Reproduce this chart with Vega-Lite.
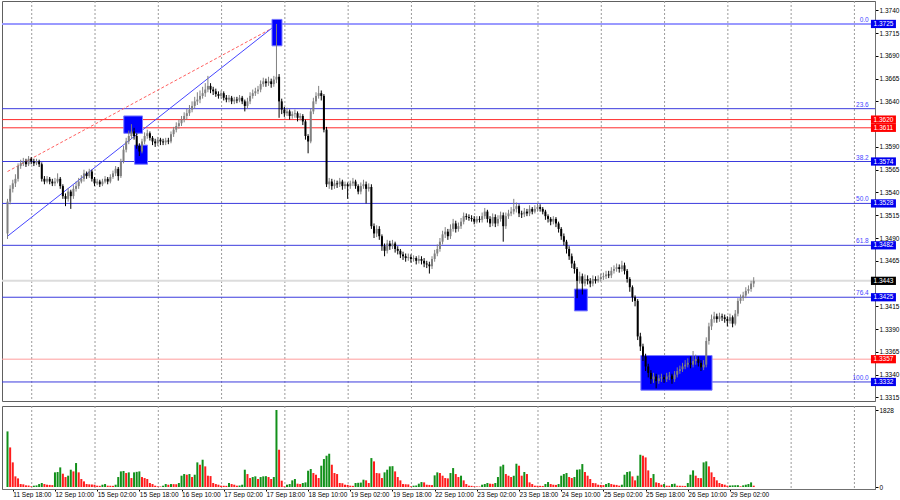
{
"$schema": "https://vega.github.io/schema/vega-lite/v6.json",
"padding": 0,
"background": "white",
"spacing": 3,
"config": {"view": {"stroke": "#606060", "strokeWidth": 1}, "font": "Liberation Sans",
 "axis": {"labelFontSize": 6.5, "labelColor": "#000000", "tickSize": 3, "tickColor": "#000000", "domainColor": "#707070", "labelFont": "Liberation Sans", "grid": false}},
"datasets": {
"bars": [
{"i":0,"o":1.3495,"h":1.3533,"l":1.3489,"c":1.3530,"v":1320},
{"i":1,"o":1.3530,"h":1.3548,"l":1.3527,"c":1.3544,"v":940},
{"i":2,"o":1.3544,"h":1.3554,"l":1.3540,"c":1.3550,"v":585},
{"i":3,"o":1.3550,"h":1.3560,"l":1.3546,"c":1.3555,"v":253},
{"i":4,"o":1.3555,"h":1.3572,"l":1.3552,"c":1.3569,"v":205},
{"i":5,"o":1.3569,"h":1.3576,"l":1.3566,"c":1.3572,"v":71},
{"i":6,"o":1.3572,"h":1.3578,"l":1.3569,"c":1.3574,"v":64},
{"i":7,"o":1.3574,"h":1.3577,"l":1.3568,"c":1.3571,"v":40},
{"i":8,"o":1.3571,"h":1.3580,"l":1.3569,"c":1.3577,"v":36},
{"i":9,"o":1.3577,"h":1.3579,"l":1.3571,"c":1.3574,"v":16},
{"i":10,"o":1.3574,"h":1.3577,"l":1.3569,"c":1.3572,"v":32},
{"i":11,"o":1.3572,"h":1.3577,"l":1.3570,"c":1.3574,"v":38},
{"i":12,"o":1.3574,"h":1.3576,"l":1.3568,"c":1.3571,"v":71},
{"i":13,"o":1.3571,"h":1.3573,"l":1.3552,"c":1.3555,"v":95},
{"i":14,"o":1.3555,"h":1.3558,"l":1.3549,"c":1.3552,"v":71},
{"i":15,"o":1.3552,"h":1.3558,"l":1.3550,"c":1.3555,"v":55},
{"i":16,"o":1.3555,"h":1.3557,"l":1.3549,"c":1.3552,"v":50},
{"i":17,"o":1.3552,"h":1.3555,"l":1.3547,"c":1.3550,"v":45},
{"i":18,"o":1.3550,"h":1.3556,"l":1.3547,"c":1.3552,"v":348},
{"i":19,"o":1.3552,"h":1.3561,"l":1.3550,"c":1.3555,"v":356},
{"i":20,"o":1.3555,"h":1.3557,"l":1.3544,"c":1.3547,"v":466},
{"i":21,"o":1.3547,"h":1.3549,"l":1.3533,"c":1.3536,"v":316},
{"i":22,"o":1.3536,"h":1.3539,"l":1.3525,"c":1.3533,"v":237},
{"i":23,"o":1.3533,"h":1.3545,"l":1.3530,"c":1.3541,"v":269},
{"i":24,"o":1.3541,"h":1.3543,"l":1.3522,"c":1.3536,"v":411},
{"i":25,"o":1.3536,"h":1.3548,"l":1.3533,"c":1.3544,"v":371},
{"i":26,"o":1.3544,"h":1.3552,"l":1.3541,"c":1.3547,"v":569},
{"i":27,"o":1.3547,"h":1.3556,"l":1.3544,"c":1.3552,"v":348},
{"i":28,"o":1.3552,"h":1.3559,"l":1.3550,"c":1.3555,"v":190},
{"i":29,"o":1.3555,"h":1.3565,"l":1.3552,"c":1.3561,"v":134},
{"i":30,"o":1.3561,"h":1.3563,"l":1.3555,"c":1.3558,"v":71},
{"i":31,"o":1.3558,"h":1.3566,"l":1.3556,"c":1.3563,"v":64},
{"i":32,"o":1.3563,"h":1.3565,"l":1.3552,"c":1.3555,"v":60},
{"i":33,"o":1.3555,"h":1.3557,"l":1.3547,"c":1.3550,"v":55},
{"i":34,"o":1.3550,"h":1.3555,"l":1.3548,"c":1.3552,"v":32},
{"i":35,"o":1.3552,"h":1.3554,"l":1.3546,"c":1.3549,"v":28},
{"i":36,"o":1.3549,"h":1.3555,"l":1.3547,"c":1.3552,"v":55},
{"i":37,"o":1.3552,"h":1.3558,"l":1.3550,"c":1.3555,"v":71},
{"i":38,"o":1.3555,"h":1.3557,"l":1.3549,"c":1.3552,"v":32},
{"i":39,"o":1.3552,"h":1.3560,"l":1.3550,"c":1.3557,"v":30},
{"i":40,"o":1.3557,"h":1.3564,"l":1.3555,"c":1.3561,"v":28},
{"i":41,"o":1.3561,"h":1.3569,"l":1.3558,"c":1.3566,"v":55},
{"i":42,"o":1.3566,"h":1.3568,"l":1.3553,"c":1.3558,"v":237},
{"i":43,"o":1.3558,"h":1.3577,"l":1.3556,"c":1.3574,"v":371},
{"i":44,"o":1.3574,"h":1.3591,"l":1.3572,"c":1.3587,"v":380},
{"i":45,"o":1.3587,"h":1.3600,"l":1.3584,"c":1.3596,"v":332},
{"i":46,"o":1.3596,"h":1.3608,"l":1.3593,"c":1.3602,"v":348},
{"i":47,"o":1.3602,"h":1.3615,"l":1.3599,"c":1.3607,"v":213},
{"i":48,"o":1.3607,"h":1.3611,"l":1.3598,"c":1.3602,"v":348},
{"i":49,"o":1.3602,"h":1.3605,"l":1.3588,"c":1.3591,"v":360},
{"i":50,"o":1.3591,"h":1.3594,"l":1.3580,"c":1.3585,"v":371},
{"i":51,"o":1.3585,"h":1.3599,"l":1.3583,"c":1.3596,"v":237},
{"i":52,"o":1.3596,"h":1.3606,"l":1.3593,"c":1.3602,"v":213},
{"i":53,"o":1.3602,"h":1.3609,"l":1.3599,"c":1.3605,"v":190},
{"i":54,"o":1.3605,"h":1.3607,"l":1.3597,"c":1.3600,"v":95},
{"i":55,"o":1.3600,"h":1.3602,"l":1.3592,"c":1.3596,"v":71},
{"i":56,"o":1.3596,"h":1.3599,"l":1.3590,"c":1.3594,"v":32},
{"i":57,"o":1.3594,"h":1.3601,"l":1.3591,"c":1.3598,"v":16},
{"i":58,"o":1.3598,"h":1.3600,"l":1.3592,"c":1.3596,"v":12},
{"i":59,"o":1.3596,"h":1.3599,"l":1.3592,"c":1.3595,"v":32},
{"i":60,"o":1.3595,"h":1.3600,"l":1.3592,"c":1.3597,"v":71},
{"i":61,"o":1.3597,"h":1.3600,"l":1.3593,"c":1.3596,"v":55},
{"i":62,"o":1.3596,"h":1.3607,"l":1.3594,"c":1.3604,"v":71},
{"i":63,"o":1.3604,"h":1.3612,"l":1.3601,"c":1.3609,"v":68},
{"i":64,"o":1.3609,"h":1.3617,"l":1.3606,"c":1.3613,"v":66},
{"i":65,"o":1.3613,"h":1.3620,"l":1.3610,"c":1.3616,"v":95},
{"i":66,"o":1.3616,"h":1.3624,"l":1.3613,"c":1.3620,"v":269},
{"i":67,"o":1.3620,"h":1.3628,"l":1.3617,"c":1.3624,"v":308},
{"i":68,"o":1.3624,"h":1.3632,"l":1.3620,"c":1.3627,"v":292},
{"i":69,"o":1.3627,"h":1.3636,"l":1.3624,"c":1.3631,"v":308},
{"i":70,"o":1.3631,"h":1.3640,"l":1.3628,"c":1.3635,"v":237},
{"i":71,"o":1.3635,"h":1.3645,"l":1.3632,"c":1.3640,"v":292},
{"i":72,"o":1.3640,"h":1.3650,"l":1.3636,"c":1.3642,"v":585},
{"i":73,"o":1.3642,"h":1.3652,"l":1.3638,"c":1.3646,"v":529},
{"i":74,"o":1.3646,"h":1.3656,"l":1.3643,"c":1.3649,"v":648},
{"i":75,"o":1.3649,"h":1.3660,"l":1.3645,"c":1.3653,"v":490},
{"i":76,"o":1.3653,"h":1.3668,"l":1.3650,"c":1.3657,"v":269},
{"i":77,"o":1.3657,"h":1.3660,"l":1.3649,"c":1.3653,"v":260},
{"i":78,"o":1.3653,"h":1.3656,"l":1.3647,"c":1.3651,"v":95},
{"i":79,"o":1.3651,"h":1.3654,"l":1.3645,"c":1.3648,"v":71},
{"i":80,"o":1.3648,"h":1.3651,"l":1.3643,"c":1.3646,"v":55},
{"i":81,"o":1.3646,"h":1.3652,"l":1.3643,"c":1.3649,"v":32},
{"i":82,"o":1.3649,"h":1.3651,"l":1.3641,"c":1.3644,"v":30},
{"i":83,"o":1.3644,"h":1.3647,"l":1.3639,"c":1.3642,"v":28},
{"i":84,"o":1.3642,"h":1.3647,"l":1.3639,"c":1.3644,"v":95},
{"i":85,"o":1.3644,"h":1.3646,"l":1.3637,"c":1.3640,"v":71},
{"i":86,"o":1.3640,"h":1.3645,"l":1.3637,"c":1.3642,"v":55},
{"i":87,"o":1.3642,"h":1.3645,"l":1.3638,"c":1.3641,"v":32},
{"i":88,"o":1.3641,"h":1.3647,"l":1.3639,"c":1.3644,"v":36},
{"i":89,"o":1.3644,"h":1.3646,"l":1.3637,"c":1.3640,"v":55},
{"i":90,"o":1.3640,"h":1.3642,"l":1.3629,"c":1.3635,"v":411},
{"i":91,"o":1.3635,"h":1.3644,"l":1.3632,"c":1.3640,"v":308},
{"i":92,"o":1.3640,"h":1.3650,"l":1.3637,"c":1.3646,"v":213},
{"i":93,"o":1.3646,"h":1.3653,"l":1.3643,"c":1.3649,"v":237},
{"i":94,"o":1.3649,"h":1.3655,"l":1.3646,"c":1.3651,"v":253},
{"i":95,"o":1.3651,"h":1.3657,"l":1.3648,"c":1.3653,"v":190},
{"i":96,"o":1.3653,"h":1.3663,"l":1.3650,"c":1.3659,"v":237},
{"i":97,"o":1.3659,"h":1.3666,"l":1.3656,"c":1.3662,"v":253},
{"i":98,"o":1.3662,"h":1.3665,"l":1.3656,"c":1.3660,"v":258},
{"i":99,"o":1.3660,"h":1.3667,"l":1.3657,"c":1.3662,"v":237},
{"i":100,"o":1.3662,"h":1.3665,"l":1.3655,"c":1.3659,"v":190},
{"i":101,"o":1.3659,"h":1.3668,"l":1.3656,"c":1.3664,"v":237},
{"i":102,"o":1.3664,"h":1.3725,"l":1.3660,"c":1.3667,"v":1828},
{"i":103,"o":1.3667,"h":1.3670,"l":1.3622,"c":1.3640,"v":885},
{"i":104,"o":1.3640,"h":1.3643,"l":1.3626,"c":1.3631,"v":150},
{"i":105,"o":1.3631,"h":1.3634,"l":1.3623,"c":1.3627,"v":16},
{"i":106,"o":1.3627,"h":1.3633,"l":1.3624,"c":1.3629,"v":55},
{"i":107,"o":1.3629,"h":1.3631,"l":1.3620,"c":1.3624,"v":71},
{"i":108,"o":1.3624,"h":1.3629,"l":1.3621,"c":1.3626,"v":158},
{"i":109,"o":1.3626,"h":1.3631,"l":1.3622,"c":1.3627,"v":190},
{"i":110,"o":1.3627,"h":1.3629,"l":1.3618,"c":1.3622,"v":79},
{"i":111,"o":1.3622,"h":1.3627,"l":1.3619,"c":1.3624,"v":71},
{"i":112,"o":1.3624,"h":1.3626,"l":1.3614,"c":1.3618,"v":95},
{"i":113,"o":1.3618,"h":1.3620,"l":1.3598,"c":1.3602,"v":110},
{"i":114,"o":1.3602,"h":1.3604,"l":1.3583,"c":1.3596,"v":387},
{"i":115,"o":1.3596,"h":1.3632,"l":1.3594,"c":1.3629,"v":427},
{"i":116,"o":1.3629,"h":1.3644,"l":1.3626,"c":1.3640,"v":332},
{"i":117,"o":1.3640,"h":1.3650,"l":1.3637,"c":1.3646,"v":292},
{"i":118,"o":1.3646,"h":1.3657,"l":1.3643,"c":1.3649,"v":213},
{"i":119,"o":1.3649,"h":1.3652,"l":1.3641,"c":1.3646,"v":506},
{"i":120,"o":1.3646,"h":1.3648,"l":1.3606,"c":1.3609,"v":664},
{"i":121,"o":1.3609,"h":1.3612,"l":1.3546,"c":1.3549,"v":743},
{"i":122,"o":1.3549,"h":1.3556,"l":1.3544,"c":1.3552,"v":790},
{"i":123,"o":1.3552,"h":1.3555,"l":1.3543,"c":1.3547,"v":529},
{"i":124,"o":1.3547,"h":1.3554,"l":1.3544,"c":1.3550,"v":332},
{"i":125,"o":1.3550,"h":1.3553,"l":1.3545,"c":1.3549,"v":308},
{"i":126,"o":1.3549,"h":1.3556,"l":1.3546,"c":1.3552,"v":95},
{"i":127,"o":1.3552,"h":1.3554,"l":1.3543,"c":1.3547,"v":90},
{"i":128,"o":1.3547,"h":1.3552,"l":1.3544,"c":1.3549,"v":55},
{"i":129,"o":1.3549,"h":1.3551,"l":1.3533,"c":1.3547,"v":50},
{"i":130,"o":1.3547,"h":1.3553,"l":1.3544,"c":1.3550,"v":32},
{"i":131,"o":1.3550,"h":1.3556,"l":1.3547,"c":1.3552,"v":28},
{"i":132,"o":1.3552,"h":1.3554,"l":1.3544,"c":1.3547,"v":95},
{"i":133,"o":1.3547,"h":1.3549,"l":1.3538,"c":1.3541,"v":100},
{"i":134,"o":1.3541,"h":1.3551,"l":1.3538,"c":1.3547,"v":105},
{"i":135,"o":1.3547,"h":1.3554,"l":1.3544,"c":1.3549,"v":174},
{"i":136,"o":1.3549,"h":1.3552,"l":1.3528,"c":1.3544,"v":158},
{"i":137,"o":1.3544,"h":1.3550,"l":1.3541,"c":1.3546,"v":95},
{"i":138,"o":1.3546,"h":1.3549,"l":1.3500,"c":1.3503,"v":687},
{"i":139,"o":1.3503,"h":1.3506,"l":1.3490,"c":1.3495,"v":608},
{"i":140,"o":1.3495,"h":1.3504,"l":1.3491,"c":1.3500,"v":332},
{"i":141,"o":1.3500,"h":1.3503,"l":1.3488,"c":1.3492,"v":325},
{"i":142,"o":1.3492,"h":1.3494,"l":1.3476,"c":1.3481,"v":213},
{"i":143,"o":1.3481,"h":1.3484,"l":1.3470,"c":1.3476,"v":348},
{"i":144,"o":1.3476,"h":1.3488,"l":1.3473,"c":1.3484,"v":411},
{"i":145,"o":1.3484,"h":1.3487,"l":1.3477,"c":1.3481,"v":490},
{"i":146,"o":1.3481,"h":1.3488,"l":1.3478,"c":1.3484,"v":495},
{"i":147,"o":1.3484,"h":1.3486,"l":1.3474,"c":1.3478,"v":371},
{"i":148,"o":1.3478,"h":1.3481,"l":1.3472,"c":1.3476,"v":237},
{"i":149,"o":1.3476,"h":1.3478,"l":1.3468,"c":1.3472,"v":158},
{"i":150,"o":1.3472,"h":1.3475,"l":1.3466,"c":1.3470,"v":71},
{"i":151,"o":1.3470,"h":1.3473,"l":1.3464,"c":1.3468,"v":66},
{"i":152,"o":1.3468,"h":1.3473,"l":1.3465,"c":1.3469,"v":62},
{"i":153,"o":1.3469,"h":1.3472,"l":1.3463,"c":1.3467,"v":16},
{"i":154,"o":1.3467,"h":1.3471,"l":1.3464,"c":1.3468,"v":32},
{"i":155,"o":1.3468,"h":1.3470,"l":1.3461,"c":1.3465,"v":36},
{"i":156,"o":1.3465,"h":1.3471,"l":1.3462,"c":1.3467,"v":79},
{"i":157,"o":1.3467,"h":1.3470,"l":1.3461,"c":1.3465,"v":118},
{"i":158,"o":1.3465,"h":1.3468,"l":1.3458,"c":1.3462,"v":110},
{"i":159,"o":1.3462,"h":1.3465,"l":1.3457,"c":1.3461,"v":55},
{"i":160,"o":1.3461,"h":1.3464,"l":1.3451,"c":1.3459,"v":50},
{"i":161,"o":1.3459,"h":1.3470,"l":1.3456,"c":1.3467,"v":45},
{"i":162,"o":1.3467,"h":1.3477,"l":1.3464,"c":1.3473,"v":277},
{"i":163,"o":1.3473,"h":1.3483,"l":1.3470,"c":1.3478,"v":348},
{"i":164,"o":1.3478,"h":1.3490,"l":1.3475,"c":1.3486,"v":332},
{"i":165,"o":1.3486,"h":1.3498,"l":1.3483,"c":1.3494,"v":269},
{"i":166,"o":1.3494,"h":1.3502,"l":1.3490,"c":1.3497,"v":213},
{"i":167,"o":1.3497,"h":1.3500,"l":1.3488,"c":1.3492,"v":205},
{"i":168,"o":1.3492,"h":1.3505,"l":1.3489,"c":1.3500,"v":332},
{"i":169,"o":1.3500,"h":1.3511,"l":1.3497,"c":1.3506,"v":450},
{"i":170,"o":1.3506,"h":1.3509,"l":1.3496,"c":1.3500,"v":308},
{"i":171,"o":1.3500,"h":1.3507,"l":1.3497,"c":1.3503,"v":237},
{"i":172,"o":1.3503,"h":1.3512,"l":1.3500,"c":1.3508,"v":269},
{"i":173,"o":1.3508,"h":1.3518,"l":1.3505,"c":1.3514,"v":158},
{"i":174,"o":1.3514,"h":1.3517,"l":1.3510,"c":1.3513,"v":71},
{"i":175,"o":1.3513,"h":1.3516,"l":1.3509,"c":1.3512,"v":32},
{"i":176,"o":1.3512,"h":1.3515,"l":1.3508,"c":1.3511,"v":28},
{"i":177,"o":1.3511,"h":1.3514,"l":1.3505,"c":1.3508,"v":16},
{"i":178,"o":1.3508,"h":1.3514,"l":1.3506,"c":1.3511,"v":14},
{"i":179,"o":1.3511,"h":1.3514,"l":1.3507,"c":1.3510,"v":12},
{"i":180,"o":1.3510,"h":1.3518,"l":1.3507,"c":1.3514,"v":55},
{"i":181,"o":1.3514,"h":1.3523,"l":1.3511,"c":1.3519,"v":71},
{"i":182,"o":1.3519,"h":1.3521,"l":1.3507,"c":1.3511,"v":95},
{"i":183,"o":1.3511,"h":1.3514,"l":1.3502,"c":1.3506,"v":79},
{"i":184,"o":1.3506,"h":1.3517,"l":1.3503,"c":1.3513,"v":75},
{"i":185,"o":1.3513,"h":1.3516,"l":1.3502,"c":1.3506,"v":95},
{"i":186,"o":1.3506,"h":1.3515,"l":1.3503,"c":1.3511,"v":237},
{"i":187,"o":1.3511,"h":1.3519,"l":1.3508,"c":1.3515,"v":490},
{"i":188,"o":1.3515,"h":1.3518,"l":1.3486,"c":1.3503,"v":529},
{"i":189,"o":1.3503,"h":1.3518,"l":1.3500,"c":1.3514,"v":308},
{"i":190,"o":1.3514,"h":1.3521,"l":1.3511,"c":1.3517,"v":269},
{"i":191,"o":1.3517,"h":1.3524,"l":1.3514,"c":1.3519,"v":237},
{"i":192,"o":1.3519,"h":1.3533,"l":1.3516,"c":1.3522,"v":269},
{"i":193,"o":1.3522,"h":1.3529,"l":1.3518,"c":1.3525,"v":553},
{"i":194,"o":1.3525,"h":1.3527,"l":1.3513,"c":1.3517,"v":506},
{"i":195,"o":1.3517,"h":1.3520,"l":1.3512,"c":1.3516,"v":269},
{"i":196,"o":1.3516,"h":1.3523,"l":1.3513,"c":1.3519,"v":356},
{"i":197,"o":1.3519,"h":1.3522,"l":1.3514,"c":1.3517,"v":308},
{"i":198,"o":1.3517,"h":1.3526,"l":1.3514,"c":1.3522,"v":110},
{"i":199,"o":1.3522,"h":1.3524,"l":1.3516,"c":1.3519,"v":71},
{"i":200,"o":1.3519,"h":1.3526,"l":1.3517,"c":1.3522,"v":32},
{"i":201,"o":1.3522,"h":1.3528,"l":1.3519,"c":1.3524,"v":30},
{"i":202,"o":1.3524,"h":1.3527,"l":1.3519,"c":1.3522,"v":28},
{"i":203,"o":1.3522,"h":1.3524,"l":1.3516,"c":1.3519,"v":26},
{"i":204,"o":1.3519,"h":1.3521,"l":1.3510,"c":1.3514,"v":71},
{"i":205,"o":1.3514,"h":1.3516,"l":1.3507,"c":1.3511,"v":118},
{"i":206,"o":1.3511,"h":1.3513,"l":1.3504,"c":1.3508,"v":71},
{"i":207,"o":1.3508,"h":1.3514,"l":1.3505,"c":1.3511,"v":55},
{"i":208,"o":1.3511,"h":1.3513,"l":1.3502,"c":1.3506,"v":50},
{"i":209,"o":1.3506,"h":1.3508,"l":1.3496,"c":1.3500,"v":71},
{"i":210,"o":1.3500,"h":1.3502,"l":1.3488,"c":1.3492,"v":269},
{"i":211,"o":1.3492,"h":1.3495,"l":1.3482,"c":1.3486,"v":308},
{"i":212,"o":1.3486,"h":1.3488,"l":1.3473,"c":1.3478,"v":332},
{"i":213,"o":1.3478,"h":1.3481,"l":1.3466,"c":1.3470,"v":237},
{"i":214,"o":1.3470,"h":1.3473,"l":1.3457,"c":1.3462,"v":213},
{"i":215,"o":1.3462,"h":1.3465,"l":1.3451,"c":1.3456,"v":237},
{"i":216,"o":1.3456,"h":1.3458,"l":1.3424,"c":1.3443,"v":411},
{"i":217,"o":1.3443,"h":1.3453,"l":1.3440,"c":1.3448,"v":420},
{"i":218,"o":1.3448,"h":1.3451,"l":1.3428,"c":1.3440,"v":545},
{"i":219,"o":1.3440,"h":1.3450,"l":1.3437,"c":1.3445,"v":356},
{"i":220,"o":1.3445,"h":1.3449,"l":1.3439,"c":1.3443,"v":269},
{"i":221,"o":1.3443,"h":1.3446,"l":1.3436,"c":1.3440,"v":190},
{"i":222,"o":1.3440,"h":1.3449,"l":1.3437,"c":1.3445,"v":95},
{"i":223,"o":1.3445,"h":1.3448,"l":1.3440,"c":1.3443,"v":90},
{"i":224,"o":1.3443,"h":1.3449,"l":1.3441,"c":1.3445,"v":55},
{"i":225,"o":1.3445,"h":1.3451,"l":1.3442,"c":1.3447,"v":50},
{"i":226,"o":1.3447,"h":1.3452,"l":1.3444,"c":1.3448,"v":45},
{"i":227,"o":1.3448,"h":1.3454,"l":1.3445,"c":1.3450,"v":71},
{"i":228,"o":1.3450,"h":1.3454,"l":1.3446,"c":1.3449,"v":95},
{"i":229,"o":1.3449,"h":1.3458,"l":1.3446,"c":1.3454,"v":71},
{"i":230,"o":1.3454,"h":1.3460,"l":1.3451,"c":1.3456,"v":55},
{"i":231,"o":1.3456,"h":1.3462,"l":1.3453,"c":1.3458,"v":50},
{"i":232,"o":1.3458,"h":1.3461,"l":1.3452,"c":1.3456,"v":32},
{"i":233,"o":1.3456,"h":1.3465,"l":1.3453,"c":1.3460,"v":55},
{"i":234,"o":1.3460,"h":1.3463,"l":1.3450,"c":1.3454,"v":292},
{"i":235,"o":1.3454,"h":1.3456,"l":1.3441,"c":1.3445,"v":356},
{"i":236,"o":1.3445,"h":1.3447,"l":1.3431,"c":1.3436,"v":371},
{"i":237,"o":1.3436,"h":1.3438,"l":1.3420,"c":1.3425,"v":253},
{"i":238,"o":1.3425,"h":1.3427,"l":1.3415,"c":1.3421,"v":158},
{"i":239,"o":1.3421,"h":1.3423,"l":1.3378,"c":1.3382,"v":269},
{"i":240,"o":1.3382,"h":1.3386,"l":1.3366,"c":1.3371,"v":766},
{"i":241,"o":1.3371,"h":1.3374,"l":1.3355,"c":1.3360,"v":743},
{"i":242,"o":1.3360,"h":1.3363,"l":1.3344,"c":1.3349,"v":703},
{"i":243,"o":1.3349,"h":1.3352,"l":1.3337,"c":1.3342,"v":395},
{"i":244,"o":1.3342,"h":1.3345,"l":1.3330,"c":1.3335,"v":213},
{"i":245,"o":1.3335,"h":1.3342,"l":1.3331,"c":1.3338,"v":308},
{"i":246,"o":1.3338,"h":1.3341,"l":1.3325,"c":1.3333,"v":110},
{"i":247,"o":1.3333,"h":1.3340,"l":1.3330,"c":1.3336,"v":95},
{"i":248,"o":1.3336,"h":1.3341,"l":1.3332,"c":1.3337,"v":55},
{"i":249,"o":1.3337,"h":1.3340,"l":1.3331,"c":1.3335,"v":71},
{"i":250,"o":1.3335,"h":1.3342,"l":1.3332,"c":1.3338,"v":32},
{"i":251,"o":1.3338,"h":1.3343,"l":1.3334,"c":1.3339,"v":30},
{"i":252,"o":1.3339,"h":1.3341,"l":1.3330,"c":1.3335,"v":71},
{"i":253,"o":1.3335,"h":1.3344,"l":1.3332,"c":1.3340,"v":79},
{"i":254,"o":1.3340,"h":1.3348,"l":1.3337,"c":1.3344,"v":32},
{"i":255,"o":1.3344,"h":1.3350,"l":1.3341,"c":1.3346,"v":30},
{"i":256,"o":1.3346,"h":1.3353,"l":1.3343,"c":1.3349,"v":28},
{"i":257,"o":1.3349,"h":1.3356,"l":1.3346,"c":1.3351,"v":26},
{"i":258,"o":1.3351,"h":1.3358,"l":1.3348,"c":1.3353,"v":95},
{"i":259,"o":1.3353,"h":1.3360,"l":1.3347,"c":1.3351,"v":292},
{"i":260,"o":1.3351,"h":1.3366,"l":1.3348,"c":1.3355,"v":395},
{"i":261,"o":1.3355,"h":1.3362,"l":1.3351,"c":1.3357,"v":269},
{"i":262,"o":1.3357,"h":1.3360,"l":1.3349,"c":1.3353,"v":213},
{"i":263,"o":1.3353,"h":1.3356,"l":1.3344,"c":1.3348,"v":210},
{"i":264,"o":1.3348,"h":1.3356,"l":1.3345,"c":1.3351,"v":585},
{"i":265,"o":1.3351,"h":1.3381,"l":1.3348,"c":1.3377,"v":608},
{"i":266,"o":1.3377,"h":1.3397,"l":1.3373,"c":1.3393,"v":490},
{"i":267,"o":1.3393,"h":1.3406,"l":1.3389,"c":1.3401,"v":348},
{"i":268,"o":1.3401,"h":1.3409,"l":1.3397,"c":1.3404,"v":237},
{"i":269,"o":1.3404,"h":1.3407,"l":1.3397,"c":1.3401,"v":158},
{"i":270,"o":1.3401,"h":1.3408,"l":1.3398,"c":1.3404,"v":95},
{"i":271,"o":1.3404,"h":1.3407,"l":1.3399,"c":1.3403,"v":71},
{"i":272,"o":1.3403,"h":1.3406,"l":1.3397,"c":1.3401,"v":55},
{"i":273,"o":1.3401,"h":1.3404,"l":1.3393,"c":1.3399,"v":32},
{"i":274,"o":1.3399,"h":1.3407,"l":1.3396,"c":1.3403,"v":36},
{"i":275,"o":1.3403,"h":1.3405,"l":1.3392,"c":1.3396,"v":40},
{"i":276,"o":1.3396,"h":1.3411,"l":1.3394,"c":1.3407,"v":42},
{"i":277,"o":1.3407,"h":1.3424,"l":1.3404,"c":1.3421,"v":44},
{"i":278,"o":1.3421,"h":1.3428,"l":1.3418,"c":1.3424,"v":16},
{"i":279,"o":1.3424,"h":1.3431,"l":1.3421,"c":1.3427,"v":40},
{"i":280,"o":1.3427,"h":1.3436,"l":1.3424,"c":1.3432,"v":55},
{"i":281,"o":1.3432,"h":1.3438,"l":1.3429,"c":1.3434,"v":71},
{"i":282,"o":1.3434,"h":1.3443,"l":1.3431,"c":1.3440,"v":110},
{"i":283,"o":1.3440,"h":1.3447,"l":1.3436,"c":1.3443,"v":32}
],
"levels": [
{"p":1.3725,"k":"fib0","f":"0.0"},
{"p":1.3632,"k":"fib","f":"23.6"},
{"p":1.3574,"k":"fib","f":"38.2"},
{"p":1.3528,"k":"fib","f":"50.0"},
{"p":1.3482,"k":"fib","f":"61.8"},
{"p":1.3425,"k":"fib","f":"76.4"},
{"p":1.3332,"k":"fib","f":"100.0"},
{"p":1.3620,"k":"res","f":""},
{"p":1.3611,"k":"res","f":""},
{"p":1.3357,"k":"sup","f":""},
{"p":1.3443,"k":"bid","f":""}
],
"grid": [{"g":9.19},{"g":33.19},{"g":57.19},{"g":81.19},{"g":105.19},{"g":129.19},{"g":153.19},{"g":177.19},{"g":201.19},{"g":225.19},{"g":249.19},{"g":273.19},{"g":297.19},{"g":321.19}],
"trend": [
{"t":"a","i":0,"p":1.3492},{"t":"a","i":101.4,"p":1.3723},
{"t":"b","i":0,"p":1.3563},{"t":"b","i":101.4,"p":1.3722}
],
"boxes": [
{"i":44.1,"i2":51.2,"p":1.3624,"p2":1.3605},
{"i":48.2,"i2":53.1,"p":1.3592,"p2":1.3571},
{"i":100.3,"i2":104.1,"p":1.3730,"p2":1.3701},
{"i":215.0,"i2":219.9,"p":1.3434,"p2":1.3410},
{"i":240.2,"i2":267.2,"p":1.3361,"p2":1.3323}
]
},
"vconcat": [
{
"width": 873, "height": 400,
"layer": [
{"data": {"name": "grid"}, "mark": {"type": "rule", "color": "#9a9a9a", "strokeDash": [2, 2], "strokeWidth": 1},
 "encoding": {"x": {"field": "g", "type": "quantitative", "scale": {"domain": [-0.19, 327.1], "nice": false, "zero": false}, "axis": null}}},
{"data": {"name": "levels"}, "mark": {"type": "rule"},
 "encoding": {
  "y": {"field": "p", "type": "quantitative", "scale": {"domain": [1.33111, 1.37502], "nice": false, "zero": false},
   "axis": {"orient": "right", "title": null, "values": [1.3315,1.334,1.3365,1.339,1.3415,1.3465,1.349,1.3515,1.354,1.3565,1.359,1.364,1.3665,1.369,1.3715,1.374], "format": ".4f", "labelPadding": 1}},
  "color": {"condition": [{"test": "datum.k=='fib0'", "value": "#9a9aff"}, {"test": "datum.k=='fib'", "value": "#3b3bdd"}, {"test": "datum.k=='res'", "value": "#ff2a2a"}, {"test": "datum.k=='sup'", "value": "#ff9e9e"}], "value": "#dcdcdc"},
  "strokeWidth": {"condition": {"test": "datum.k=='fib0' || datum.k=='bid'", "value": 2}, "value": 1}
 }},
{"data": {"name": "trend"}, "transform": [{"filter": "datum.t=='b'"}], "mark": {"type": "line", "color": "#ff6060", "strokeDash": [3, 2], "strokeWidth": 1},
 "encoding": {"x": {"field": "i", "type": "quantitative", "scale": {"domain": [-0.19, 327.1], "nice": false, "zero": false}, "axis": null},
  "y": {"field": "p", "type": "quantitative", "scale": {"domain": [1.33111, 1.37502], "nice": false, "zero": false},
   "axis": {"orient": "right", "title": null, "values": [1.3315,1.334,1.3365,1.339,1.3415,1.3465,1.349,1.3515,1.354,1.3565,1.359,1.364,1.3665,1.369,1.3715,1.374], "format": ".4f", "labelPadding": 1}}}},
{"data": {"name": "trend"}, "transform": [{"filter": "datum.t=='a'"}], "mark": {"type": "line", "color": "#4646ff", "strokeWidth": 1},
 "encoding": {"x": {"field": "i", "type": "quantitative", "scale": {"domain": [-0.19, 327.1], "nice": false, "zero": false}, "axis": null},
  "y": {"field": "p", "type": "quantitative", "scale": {"domain": [1.33111, 1.37502], "nice": false, "zero": false},
   "axis": {"orient": "right", "title": null, "values": [1.3315,1.334,1.3365,1.339,1.3415,1.3465,1.349,1.3515,1.354,1.3565,1.359,1.364,1.3665,1.369,1.3715,1.374], "format": ".4f", "labelPadding": 1}}}},
{"data": {"name": "boxes"}, "mark": {"type": "rect", "fill": "#0000ff", "stroke": "#7a7aff", "strokeWidth": 1},
 "encoding": {"x": {"field": "i", "type": "quantitative", "scale": {"domain": [-0.19, 327.1], "nice": false, "zero": false}, "axis": null},
  "x2": {"field": "i2"},
  "y": {"field": "p", "type": "quantitative", "scale": {"domain": [1.33111, 1.37502], "nice": false, "zero": false},
   "axis": {"orient": "right", "title": null, "values": [1.3315,1.334,1.3365,1.339,1.3415,1.3465,1.349,1.3515,1.354,1.3565,1.359,1.364,1.3665,1.369,1.3715,1.374], "format": ".4f", "labelPadding": 1}},
  "y2": {"field": "p2"}}},
{"data": {"name": "bars"}, "mark": {"type": "rule", "strokeWidth": 1},
 "encoding": {"x": {"field": "i", "type": "quantitative", "scale": {"domain": [-0.19, 327.1], "nice": false, "zero": false}, "axis": null},
  "y": {"field": "l", "type": "quantitative", "scale": {"domain": [1.33111, 1.37502], "nice": false, "zero": false},
   "axis": {"orient": "right", "title": null, "values": [1.3315,1.334,1.3365,1.339,1.3415,1.3465,1.349,1.3515,1.354,1.3565,1.359,1.364,1.3665,1.369,1.3715,1.374], "format": ".4f", "labelPadding": 1}},
  "y2": {"field": "h"},
  "color": {"condition": {"test": "datum.c >= datum.o", "value": "#808080"}, "value": "#000000"}}},
{"data": {"name": "bars"}, "mark": {"type": "bar", "width": 2},
 "encoding": {"x": {"field": "i", "type": "quantitative", "scale": {"domain": [-0.19, 327.1], "nice": false, "zero": false}, "axis": null},
  "y": {"field": "o", "type": "quantitative", "scale": {"domain": [1.33111, 1.37502], "nice": false, "zero": false},
   "axis": {"orient": "right", "title": null, "values": [1.3315,1.334,1.3365,1.339,1.3415,1.3465,1.349,1.3515,1.354,1.3565,1.359,1.364,1.3665,1.369,1.3715,1.374], "format": ".4f", "labelPadding": 1}},
  "y2": {"field": "c"},
  "color": {"condition": {"test": "datum.c >= datum.o", "value": "#808080"}, "value": "#000000"}}},
{"data": {"name": "levels"}, "transform": [{"filter": "datum.f != ''"}], "mark": {"type": "text", "align": "right", "baseline": "bottom", "fontSize": 6.5, "color": "#4646ff", "dy": -1},
 "encoding": {"x": {"datum": 326.6, "type": "quantitative", "scale": {"domain": [-0.19, 327.1], "nice": false, "zero": false}, "axis": null},
  "y": {"field": "p", "type": "quantitative", "scale": {"domain": [1.33111, 1.37502], "nice": false, "zero": false},
   "axis": {"orient": "right", "title": null, "values": [1.3315,1.334,1.3365,1.339,1.3415,1.3465,1.349,1.3515,1.354,1.3565,1.359,1.364,1.3665,1.369,1.3715,1.374], "format": ".4f", "labelPadding": 1}},
  "text": {"field": "f"}}},
{"data": {"name": "levels"}, "transform": [{"filter": "datum.f != '23.6'"}], "mark": {"type": "point", "shape": "M-1,-0.33H1V0.33H-1Z", "size": 625, "filled": true, "opacity": 1, "strokeWidth": 0},
 "encoding": {"x": {"datum": 332.2, "type": "quantitative", "scale": {"domain": [-0.19, 327.1], "nice": false, "zero": false}, "axis": null},
  "y": {"field": "p", "type": "quantitative", "scale": {"domain": [1.33111, 1.37502], "nice": false, "zero": false},
   "axis": {"orient": "right", "title": null, "values": [1.3315,1.334,1.3365,1.339,1.3415,1.3465,1.349,1.3515,1.354,1.3565,1.359,1.364,1.3665,1.369,1.3715,1.374], "format": ".4f", "labelPadding": 1}},
  "color": {"condition": [{"test": "datum.k=='fib0' || datum.k=='fib'", "value": "#0000ee"}, {"test": "datum.k=='bid'", "value": "#000000"}], "value": "#ff0000"}}},
{"data": {"name": "levels"}, "transform": [{"filter": "datum.f != '23.6'"}], "mark": {"type": "text", "align": "center", "baseline": "middle", "fontSize": 6.5, "color": "#ffffff"},
 "encoding": {"x": {"datum": 332.2, "type": "quantitative", "scale": {"domain": [-0.19, 327.1], "nice": false, "zero": false}, "axis": null},
  "y": {"field": "p", "type": "quantitative", "scale": {"domain": [1.33111, 1.37502], "nice": false, "zero": false},
   "axis": {"orient": "right", "title": null, "values": [1.3315,1.334,1.3365,1.339,1.3415,1.3465,1.349,1.3515,1.354,1.3565,1.359,1.364,1.3665,1.369,1.3715,1.374], "format": ".4f", "labelPadding": 1}},
  "text": {"field": "p", "type": "quantitative", "format": ".4f"}}},
{"mark": {"type": "text", "align": "left", "baseline": "middle", "fontSize": 6.5, "color": "#000000", "text": "3447 1.3436 1.3443"},
 "encoding": {"x": {"datum": -0.19, "type": "quantitative", "scale": {"domain": [-0.19, 327.1], "nice": false, "zero": false}, "axis": null},
  "y": {"datum": 1.37425, "type": "quantitative", "scale": {"domain": [1.33111, 1.37502], "nice": false, "zero": false},
   "axis": {"orient": "right", "title": null, "values": [1.3315,1.334,1.3365,1.339,1.3415,1.3465,1.349,1.3515,1.354,1.3565,1.359,1.364,1.3665,1.369,1.3715,1.374], "format": ".4f", "labelPadding": 1}}}}
]
},
{
"width": 873, "height": 83,
"layer": [
{"data": {"name": "grid"}, "mark": {"type": "rule", "color": "#9a9a9a", "strokeDash": [2, 2], "strokeWidth": 1},
 "encoding": {"x": {"field": "g", "type": "quantitative", "scale": {"domain": [-0.19, 327.1], "nice": false, "zero": false},
   "axis": {"orient": "bottom", "title": null, "values": [2,18,34,50,66,82,98,114,130,146,162,178,194,210,226,242,258,274],
    "labelExpr": "['11 Sep 18:00','12 Sep 10:00','15 Sep 02:00','15 Sep 18:00','16 Sep 10:00','17 Sep 02:00','17 Sep 18:00','18 Sep 10:00','19 Sep 02:00','19 Sep 18:00','22 Sep 10:00','23 Sep 02:00','23 Sep 18:00','24 Sep 10:00','25 Sep 02:00','25 Sep 18:00','26 Sep 10:00','29 Sep 02:00'][round((datum.value-2)/16)]",
    "labelAlign": "left", "labelPadding": 0, "tickSize": 2, "labelOverlap": false, "labelBound": false}}}},
{"data": {"name": "bars"}, "transform": [{"window": [{"op": "lag", "field": "v", "as": "pv"}], "sort": [{"field": "i"}]}],
 "mark": {"type": "bar", "width": 2},
 "encoding": {
  "x": {"field": "i", "type": "quantitative", "scale": {"domain": [-0.19, 327.1], "nice": false, "zero": false},
   "axis": {"orient": "bottom", "title": null, "values": [2,18,34,50,66,82,98,114,130,146,162,178,194,210,226,242,258,274],
    "labelExpr": "['11 Sep 18:00','12 Sep 10:00','15 Sep 02:00','15 Sep 18:00','16 Sep 10:00','17 Sep 02:00','17 Sep 18:00','18 Sep 10:00','19 Sep 02:00','19 Sep 18:00','22 Sep 10:00','23 Sep 02:00','23 Sep 18:00','24 Sep 10:00','25 Sep 02:00','25 Sep 18:00','26 Sep 10:00','29 Sep 02:00'][round((datum.value-2)/16)]",
    "labelAlign": "left", "labelPadding": 0, "tickSize": 2, "labelOverlap": false, "labelBound": false}},
  "y": {"field": "v", "type": "quantitative", "scale": {"domain": [-47, 1923], "nice": false, "zero": false},
   "axis": {"orient": "right", "title": null, "values": [0, 1828], "labelPadding": 1, "format": "d"}},
  "y2": {"datum": 0},
  "color": {"condition": {"test": "datum.pv == null || datum.v > datum.pv", "value": "#12901a"}, "value": "#ff1c1c"}
 }}
]
}
]
}
